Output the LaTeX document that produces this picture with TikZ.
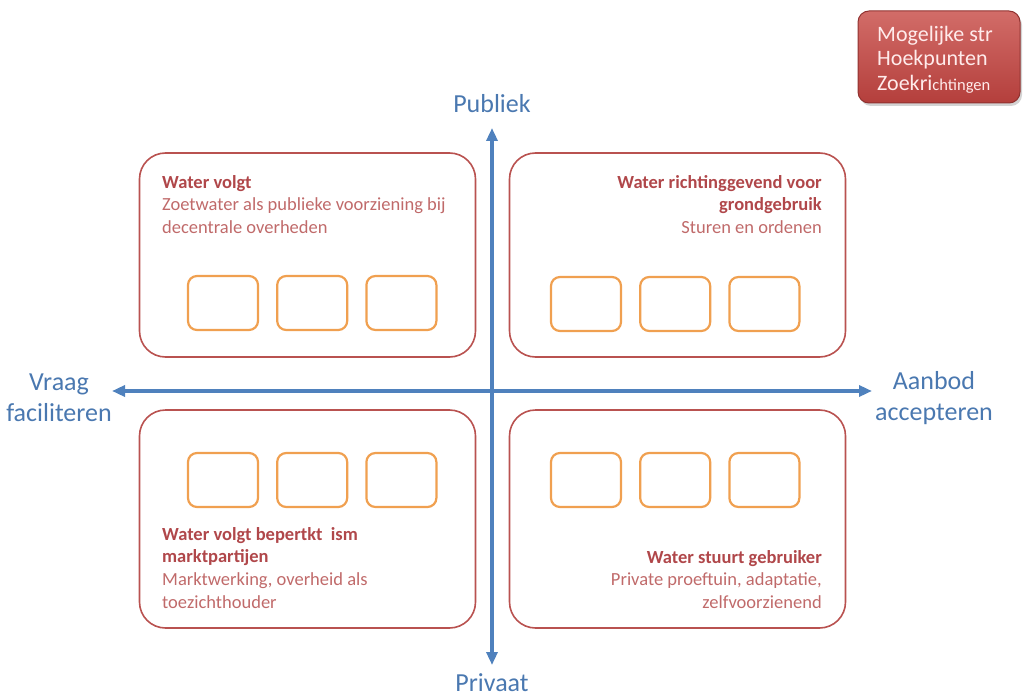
\documentclass[tikz,border=0pt]{standalone}
\usepackage{fontspec}
\setmainfont{Carlito}
\usetikzlibrary{arrows.meta,positioning,shadows}

\definecolor{axisblue}{HTML}{4F81BD}
\definecolor{labelblue}{HTML}{4A78B0}
\definecolor{quadred}{HTML}{B95250}
\definecolor{titlered}{HTML}{B0474A}
\definecolor{bodyred}{HTML}{C06A6A}
\definecolor{slotorange}{HTML}{F0A050}
\definecolor{tagtop}{HTML}{D26C68}
\definecolor{tagbot}{HTML}{B43F3C}

\begin{document}
\begin{tikzpicture}[x=1pt,y=-1pt,
  quad/.style={draw=quadred,line width=1.6pt,rounded corners=26pt,minimum width=336pt},
  slot/.style={draw=slotorange,line width=2.2pt,rounded corners=9pt,minimum width=70pt,minimum height=54pt},
  axis/.style={draw=axisblue,line width=3.4pt,{Triangle[length=13pt,width=11pt]}-{Triangle[length=13pt,width=11pt]}},
  axlabel/.style={text=labelblue,font=\fontsize{26}{31}\selectfont,align=center,inner sep=0pt},
  quadtext/.style={text=bodyred,font=\fontsize{18.5}{22.7}\selectfont,inner sep=0pt}]
\useasboundingbox (0,0) rectangle (1025,698);

% quadrants
\node[quad,minimum height=204pt] (tl) at (307.5,255) {};
\node[quad,minimum height=204pt] (tr) at (677.5,255) {};
\node[quad,minimum height=218pt] (bl) at (307.5,519) {};
\node[quad,minimum height=218pt] (br) at (677.5,519) {};

% empty slots
\foreach \q/\x/\y in {tl/223/303,tr/586/304,bl/223/480,br/586/480}{
  \node[slot] (\q-a) at (\x,\y) {};
  \node[slot,right=17pt of \q-a] (\q-b) {};
  \node[slot,right=17pt of \q-b] (\q-c) {};
}

% axes
\coordinate (top) at (492,128);
\coordinate (bottom) at (492,665);
\coordinate (west) at (112,391);
\coordinate (east) at (872,391);
\draw[axis] (bottom) -- (top);
\draw[axis] (west) -- (east);

\node[axlabel,above=15pt of top] (publiek) {Publiek};
\node[axlabel,below=8pt of bottom] (privaat) {Privaat};
\node[axlabel] (vraag) at (59,398) {Vraag\\faciliteren};
\node[axlabel] (aanbod) at (934,398) {Aanbod\\accepteren};

% quadrant texts
\node[quadtext,anchor=north west,align=left] (tl-text) at (162,175)
  {\textbf{\color{titlered}Water volgt}\\Zoetwater als publieke voorziening bij\\decentrale overheden};
\node[quadtext,anchor=north east,align=right] (tr-text) at (822,175)
  {\textbf{\color{titlered}Water richtinggevend voor}\\\textbf{\color{titlered}grondgebruik}\\Sturen en ordenen};
\node[quadtext,anchor=north west,align=left] (bl-text) at (162,527)
  {\textbf{\color{titlered}Water volgt bepertkt\ \ ism}\\\textbf{\color{titlered}marktpartijen}\\Marktwerking, overheid als\\toezichthouder};
\node[quadtext,anchor=north east,align=right] (br-text) at (822,550)
  {\textbf{\color{titlered}Water stuurt gebruiker}\\Private proeftuin, adaptatie,\\zelfvoorzienend};

% tag top right
\node[draw=tagbot!80!black,line width=1pt,rounded corners=11pt,top color=tagtop,bottom color=tagbot,
  drop shadow={opacity=0.35,shadow xshift=2pt,shadow yshift=-3pt},
  minimum width=162pt,minimum height=92pt] (tag) at (939,57) {};
\node[text=white!92!red,font=\fontsize{22}{24.5}\selectfont,align=left,inner sep=0pt,anchor=north west] (tag-text) at (877,26)
  {Mogelijke str\\Hoekpunten\\Zoekri{\fontsize{16.5}{24.5}\selectfont chtingen}};
\end{tikzpicture}
\end{document}
